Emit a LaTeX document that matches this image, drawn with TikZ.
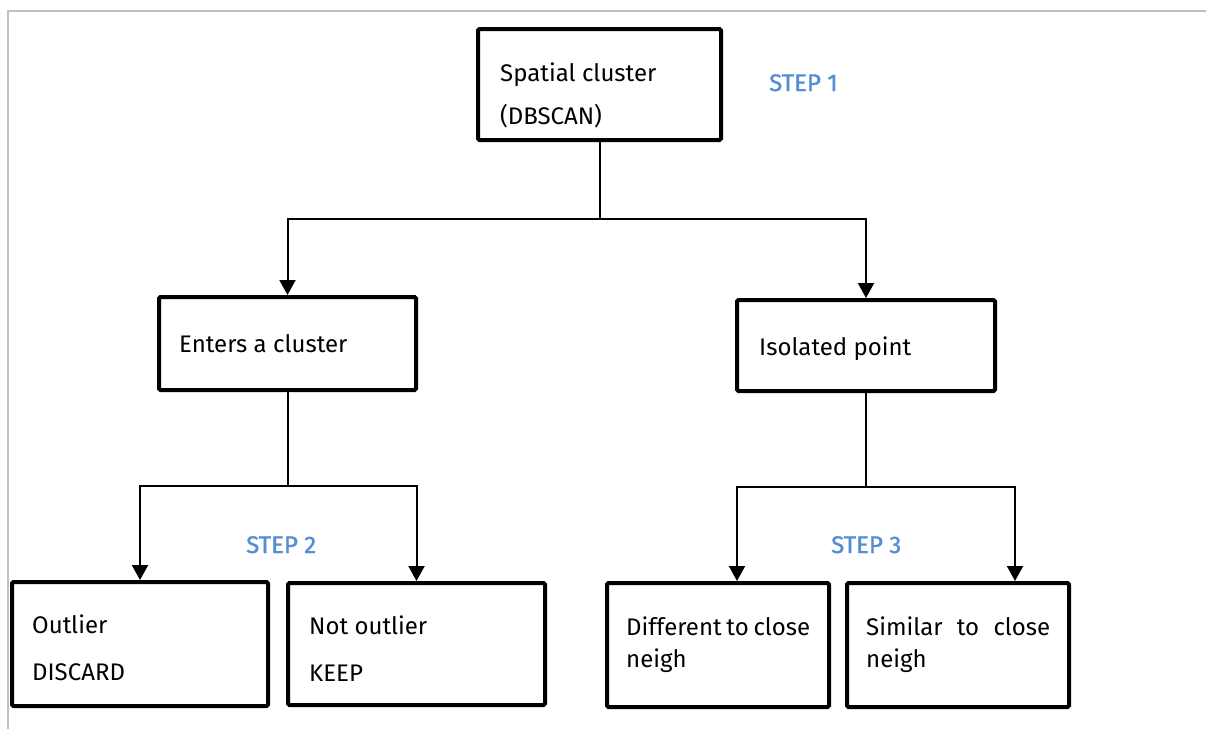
\documentclass[tikz,border=0pt]{standalone}
\usepackage{fontspec}
\setmainfont{Fira Sans}
\newfontfamily\stepfont[FakeBold=1.3]{Fira Sans}
\usetikzlibrary{arrows.meta}
\definecolor{stepblue}{HTML}{558ED5}
\definecolor{framegray}{HTML}{C0C0C0}
\tikzset{
  stepbox/.style={draw=black, line width=4pt, rounded corners=1.5pt, rectangle, inner sep=0pt},
  txt/.style={anchor=base west, inner sep=0pt, font=\fontsize{24}{32}\selectfont},
  steplabel/.style={anchor=base west, inner sep=0pt, text=stepblue, font=\stepfont\fontsize{24}{32}\selectfont},
  link/.style={draw=black, line width=2pt},
  arr/.style={link, -{Triangle[width=16pt,length=15pt]}},
}
\begin{document}
\begin{tikzpicture}[x=1pt, y=-1pt]
  \useasboundingbox (0,0) rectangle (1206,729);
  % page frame
  \draw[framegray, line width=2pt] (8,729) -- (8,11) -- (1206,11);

  % boxes
  \node[stepbox, minimum width=243pt, minimum height=111pt] (top) at (599.5,84.5) {};
  \node[stepbox, minimum width=257pt, minimum height=93pt] (enters) at (287.5,343.5) {};
  \node[stepbox, minimum width=258pt, minimum height=91pt] (isolated) at (866,345.5) {};
  \node[stepbox, minimum width=256pt, minimum height=124pt] (outlier) at (140,644) {};
  \node[stepbox, minimum width=257pt, minimum height=122pt] (notout) at (416.5,644) {};
  \node[stepbox, minimum width=222pt, minimum height=124pt] (different) at (718,645) {};
  \node[stepbox, minimum width=222pt, minimum height=124pt] (similar) at (958,645) {};

  % texts
  \node[txt] (t1a) at (500,81) {Spatial cluster};
  \node[txt] (t1b) at (500,124) {(DBSCAN)};
  \node[steplabel] (s1) at (769,91) {STEP 1};
  \node[txt] (t2) at (179,352) {Enters a cluster};
  \node[txt] (t3) at (759,355) {Isolated point};
  \node[steplabel] (s2) at (246,553) {STEP 2};
  \node[steplabel] (s3) at (831,553) {STEP 3};
  \node[txt] (t4a) at (32,633) {Outlier};
  \node[txt] (t4b) at (32,680) {DISCARD};
  \node[txt] (t5a) at (309,634) {Not outlier};
  \node[txt] (t5b) at (309,681) {KEEP};
  \node[txt] (t6a) at (626,635) {\makebox[184pt][s]{Different to close}};
  \node[txt] (t6b) at (626,667) {neigh};
  \node[txt] (t7a) at (866,635) {\makebox[184pt][s]{Similar to close}};
  \node[txt] (t7b) at (866,667) {neigh};

  % connectors
  \draw[link] (top.south) -- (top.south |- 0,219) coordinate (j1);
  \draw[arr] (j1) -| (enters.north);
  \draw[arr] (j1) -| (isolated.north);

  \draw[link] (enters.south) -- (enters.south |- 0,486) coordinate (j2);
  \draw[arr] (j2) -| (outlier.north);
  \draw[arr] (j2) -| (notout.north);

  \draw[link] (isolated.south) -- (isolated.south |- 0,487) coordinate (j3);
  \draw[arr] (j3) -| ([xshift=19pt]different.north);
  \draw[arr] (j3) -| ([xshift=57pt]similar.north);
\end{tikzpicture}
\end{document}
